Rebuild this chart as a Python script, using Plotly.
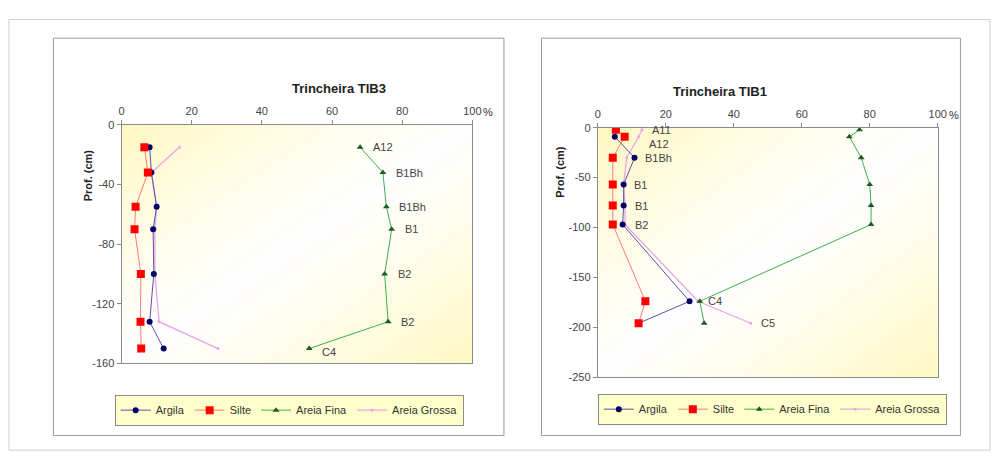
import base64, struct, zlib
import numpy as np
import plotly.graph_objects as go

# ---------------- data ----------------
series_names = ["Argila", "Silte", "Areia Fina", "Areia Grossa"]

# Trincheira TIB3
tib3_depth = [-15, -32, -55, -70, -100, -132, -150]
tib3_argila = [8, 8.5, 10, 9, 9.2, 8, 12]
tib3_silte = [6.5, 7.5, 4, 3.7, 5.5, 5.4, 5.6]
tib3_areia_fina = [68, 74.5, 75.5, 77, 75, 76, 53.5]
tib3_areia_grossa = [16.5, 8.5, 10, 9.5, 9.5, 10.7, 27.5]
tib3_horizons = ["A12", "B1Bh", "B1Bh", "B1", "B2", "B2", "C4"]

# Trincheira TIB1
tib1_depth = [-2, -9, -30, -57, -78, -97, -174, -196]
tib1_argila = [5.5, 5, 10.8, 7.6, 7.6, 7.3, 27, 12]
tib1_silte = [5.3, 7.9, 4.4, 4.4, 4.4, 4.4, 14, 12]
tib1_areia_fina = [77, 74, 77.5, 80, 80.4, 80.4, 30, 31.3]
tib1_areia_grossa = [13, 12, 8.5, 7.6, 8, 8, 29.5, 45]
tib1_horizons = ["A11", "A12", "B1Bh", "B1", "B1", "B2", "C4", "C5"]

x_ticks = [0, 20, 40, 60, 80, 100]
x_ticktext = ["0", "20", "40", "60", "80", "100"]
tib3_yticks = [0, -40, -80, -120, -160]
tib3_yticktext = ["0", "-40", "-80", "-120", "-160"]
tib1_yticks = [0, -50, -100, -150, -200, -250]
tib1_yticktext = ["0", "-50", "-100", "-150", "-200", "-250"]

# ---------------- style ----------------
W, H = 1005, 462
FONT = "Liberation Sans, Arial, sans-serif"
line_colors = ["#5a4fb0", "#ff7a7a", "#3fae50", "#e8a6e8"]
marker_colors = ["#000066", "#ff0000", "#1f5a26", "#e8a6e8"]
marker_symbols = ["circle", "square", "triangle-up", "circle"]
marker_sizes = [6, 8, 6, 3]
draw_order = [3, 2, 0, 1]  # lines of coarse sand underneath, silt on top


def px_x(p):
    return p / W


def px_y(p):
    return 1 - p / H


# plot-area domains (pixel positions)
L_dom_x = [px_x(120), px_x(475)]
L_dom_y = [px_y(367), px_y(122)]
R_dom_x = [px_x(602), px_x(946)]
R_dom_y = [px_y(381), px_y(125)]


def gradient_uri():
    n = 96
    u = np.linspace(0, 1, n)
    xx, yy = np.meshgrid(u, u)
    t = (xx + yy) / 2
    k = np.abs(2 * t - 1) ** 1.2
    yellow = np.array([255, 249, 196], dtype=float)
    white = np.array([255, 255, 255], dtype=float)
    img = (white[None, None, :] * (1 - k[..., None]) + yellow[None, None, :] * k[..., None]).astype(np.uint8)
    raw = b"".join(b"\x00" + row.tobytes() for row in img)

    def chunk(tag, data):
        return struct.pack(">I", len(data)) + tag + data + struct.pack(">I", zlib.crc32(tag + data) & 0xFFFFFFFF)

    png = (b"\x89PNG\r\n\x1a\n" + chunk(b"IHDR", struct.pack(">IIBBBBB", n, n, 8, 2, 0, 0, 0))
           + chunk(b"IDAT", zlib.compress(raw)) + chunk(b"IEND", b""))
    return "data:image/png;base64," + base64.b64encode(png).decode()


fig = go.Figure()

panels = [
    dict(xa="x", ya="y", legend="legend", depth=tib3_depth,
         vals=[tib3_argila, tib3_silte, tib3_areia_fina, tib3_areia_grossa]),
    dict(xa="x2", ya="y2", legend="legend2", depth=tib1_depth,
         vals=[tib1_argila, tib1_silte, tib1_areia_fina, tib1_areia_grossa]),
]

for p in panels:
    for i in draw_order:
        name = series_names[i]
        fig.add_trace(go.Scatter(
            x=p["vals"][i], y=p["depth"], name=name, mode="lines+markers",
            xaxis=p["xa"], yaxis=p["ya"], legend=p["legend"], legendrank=i + 1,
            line=dict(color=line_colors[i], width=1.3 if i == 3 else 1),
            marker=dict(color=marker_colors[i], symbol=marker_symbols[i], size=marker_sizes[i],
                        line=dict(width=0)),
            hoverinfo="skip",
        ))

annotations = []
# horizon labels, TIB3 (next to Areia Fina)
for xv, yv, txt in zip(tib3_areia_fina, tib3_depth, tib3_horizons):
    annotations.append(dict(x=xv, y=yv, xref="x", yref="y", text=txt, showarrow=False,
                            xanchor="left", xshift=11, yshift=-3 if txt == "C4" else 0,
                            font=dict(family=FONT, size=11, color="#444")))
# horizon labels, TIB1 (right of finer fractions)
for a, s, g, yv, txt in zip(tib1_argila, tib1_silte, tib1_areia_grossa, tib1_depth, tib1_horizons):
    xv = max(a, s, g)
    annotations.append(dict(x=xv, y=yv, xref="x2", yref="y2", text=txt, showarrow=False,
                            xanchor="left", xshift=8, yshift=-7 if txt == "A12" else 0,
                            font=dict(family=FONT, size=11, color="#444")))

# titles
annotations += [
    dict(x=px_x(290), y=px_y(75), xref="paper", yref="paper", text="<b>Trincheira TIB3</b>",
         showarrow=False, font=dict(family=FONT, size=13, color="#222")),
    dict(x=px_x(775), y=px_y(78), xref="paper", yref="paper", text="<b>Trincheira TIB1</b>",
         showarrow=False, font=dict(family=FONT, size=13, color="#222")),
    dict(x=px_x(78), y=px_y(145), xref="paper", yref="paper", text="<b>Prof. (cm)</b>",
         textangle=-90, showarrow=False, font=dict(family=FONT, size=11, color="#222")),
    dict(x=px_x(563), y=px_y(170), xref="paper", yref="paper", text="<b>Prof. (cm)</b>",
         textangle=-90, showarrow=False, font=dict(family=FONT, size=11, color="#222")),
    dict(x=100, y=px_y(101), xref="x", yref="paper", text="%", showarrow=False,
         xanchor="left", xshift=9, font=dict(family=FONT, size=11, color="#333")),
    dict(x=100, y=px_y(104), xref="x2", yref="paper", text="%", showarrow=False,
         xanchor="left", xshift=9, font=dict(family=FONT, size=11, color="#333")),
]

axis_common = dict(showgrid=False, zeroline=False, showline=True, linecolor="#8a8a8a", linewidth=1,
                   mirror=True, ticks="outside", ticklen=4, tickcolor="#8a8a8a",
                   tickfont=dict(family=FONT, size=11, color="#444"))

grad = gradient_uri()
images = [
    dict(source=grad, xref="paper", yref="paper", x=L_dom_x[0], y=L_dom_y[1],
         sizex=L_dom_x[1] - L_dom_x[0], sizey=L_dom_y[1] - L_dom_y[0],
         sizing="stretch", layer="below", xanchor="left", yanchor="top"),
    dict(source=grad, xref="paper", yref="paper", x=R_dom_x[0], y=R_dom_y[1],
         sizex=R_dom_x[1] - R_dom_x[0], sizey=R_dom_y[1] - R_dom_y[0],
         sizing="stretch", layer="below", xanchor="left", yanchor="top"),
]

shapes = [
    dict(type="rect", xref="paper", yref="paper", x0=px_x(6), x1=px_x(999), y0=px_y(456), y1=px_y(14),
         line=dict(color="#d0d0d0", width=1)),
    dict(type="rect", xref="paper", yref="paper", x0=px_x(51), x1=px_x(507), y0=px_y(441), y1=px_y(33),
         line=dict(color="#9a9a9a", width=1)),
    dict(type="rect", xref="paper", yref="paper", x0=px_x(545), x1=px_x(969), y0=px_y(441), y1=px_y(33),
         line=dict(color="#9a9a9a", width=1)),
]

legend_common = dict(orientation="h", bgcolor="#ffffcc", bordercolor="#8a8a8a", borderwidth=1,
                     xanchor="left", yanchor="top", font=dict(family=FONT, size=11, color="#333"),
                     itemwidth=30, tracegroupgap=0, traceorder="normal")

fig.update_layout(
    width=W, height=H, margin=dict(l=0, r=0, t=0, b=0),
    paper_bgcolor="white", plot_bgcolor="rgba(0,0,0,0)",
    xaxis=dict(domain=L_dom_x, range=[0, 100], side="top", anchor="y",
               tickvals=x_ticks, ticktext=x_ticktext, **axis_common),
    yaxis=dict(domain=L_dom_y, range=[-160, 0], anchor="x",
               tickvals=tib3_yticks, ticktext=tib3_yticktext, **axis_common),
    xaxis2=dict(domain=R_dom_x, range=[0, 100], side="top", anchor="y2",
                tickvals=x_ticks, ticktext=x_ticktext, **axis_common),
    yaxis2=dict(domain=R_dom_y, range=[-250, 0], anchor="x2",
                tickvals=tib1_yticks, ticktext=tib1_yticktext, **axis_common),
    legend=dict(x=px_x(113), y=px_y(399), **legend_common),
    legend2=dict(x=px_x(602), y=px_y(398), **legend_common),
    annotations=annotations, images=images, shapes=shapes,
    showlegend=True,
)

fig.write_html("out.html")
